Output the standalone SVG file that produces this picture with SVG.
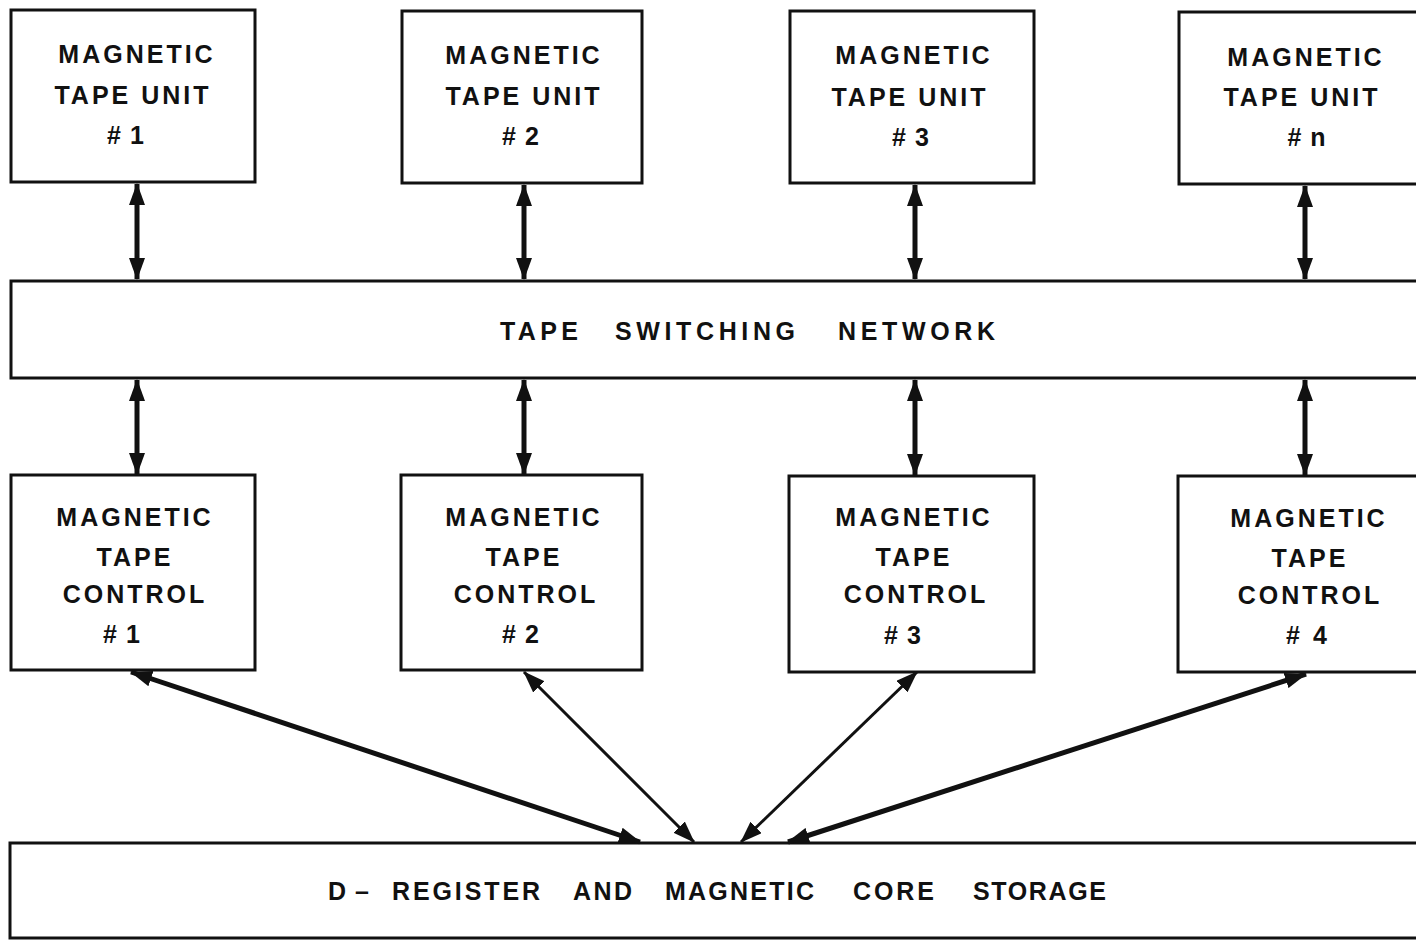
<svg xmlns="http://www.w3.org/2000/svg" width="1416" height="940" viewBox="0 0 1416 940">
  <style>
    .box { fill: #ffffff; stroke: #111111; stroke-width: 3; }
    .lbl { font-family: "Liberation Sans", Arial, sans-serif; font-weight: bold; font-size: 25px; fill: #111111; text-anchor: middle; letter-spacing: 3px; }
    .wd { font-family: "Liberation Sans", Arial, sans-serif; font-weight: bold; font-size: 25px; fill: #111111; text-anchor: start; }
    .link { stroke: #111111; fill: none; }
    .thick { stroke-width: 5; }
    .thin { stroke-width: 3; }
  </style>
  <defs>
    <marker id="head" viewBox="0 0 22 16" refX="21" refY="8" markerWidth="22" markerHeight="16" markerUnits="userSpaceOnUse" orient="auto-start-reverse">
      <path d="M0,0 L22,8 L0,16 Z" fill="#111111"/>
    </marker>
  </defs>
  <rect width="1416" height="940" fill="#ffffff"/>

  <!-- tape units -->
  <g id="tape-unit-1">
    <rect class="box" x="11" y="10" width="244" height="172"/>
    <text class="lbl" x="137" y="63">MAGNETIC</text>
    <text class="lbl" x="133" y="104">TAPE UNIT</text>
    <text class="lbl" x="127" y="144">#<tspan dx="6">1</tspan></text>
  </g>
  <g id="tape-unit-2">
    <rect class="box" x="402" y="11" width="240" height="172"/>
    <text class="lbl" x="524" y="64">MAGNETIC</text>
    <text class="lbl" x="524" y="105">TAPE UNIT</text>
    <text class="lbl" x="522" y="145">#<tspan dx="6">2</tspan></text>
  </g>
  <g id="tape-unit-3">
    <rect class="box" x="790" y="11" width="244" height="172"/>
    <text class="lbl" x="914" y="64">MAGNETIC</text>
    <text class="lbl" x="910" y="106">TAPE UNIT</text>
    <text class="lbl" x="912" y="146">#<tspan dx="6">3</tspan></text>
  </g>
  <g id="tape-unit-n">
    <rect class="box" x="1179" y="12" width="250" height="172"/>
    <text class="lbl" x="1306" y="66">MAGNETIC</text>
    <text class="lbl" x="1302" y="106">TAPE UNIT</text>
    <text class="lbl" x="1308" y="146">#<tspan dx="6">n</tspan></text>
  </g>

  <!-- switching network -->
  <g id="tape-switching-network">
    <rect class="box" x="11" y="281" width="1420" height="97"/>
    <text class="wd" x="500" y="340" textLength="78" lengthAdjust="spacing">TAPE</text>
    <text class="wd" x="615" y="340" textLength="180" lengthAdjust="spacing">SWITCHING</text>
    <text class="wd" x="838" y="340" textLength="157" lengthAdjust="spacing">NETWORK</text>
  </g>

  <!-- tape controls -->
  <g id="tape-control-1">
    <rect class="box" x="11" y="475" width="244" height="195"/>
    <text class="lbl" x="135" y="526">MAGNETIC</text>
    <text class="lbl" x="135" y="566">TAPE</text>
    <text class="lbl" x="135" y="603">CONTROL</text>
    <text class="lbl" x="123" y="643">#<tspan dx="6">1</tspan></text>
  </g>
  <g id="tape-control-2">
    <rect class="box" x="401" y="475" width="241" height="195"/>
    <text class="lbl" x="524" y="526">MAGNETIC</text>
    <text class="lbl" x="524" y="566">TAPE</text>
    <text class="lbl" x="526" y="603">CONTROL</text>
    <text class="lbl" x="522" y="643">#<tspan dx="6">2</tspan></text>
  </g>
  <g id="tape-control-3">
    <rect class="box" x="789" y="476" width="245" height="196"/>
    <text class="lbl" x="914" y="526">MAGNETIC</text>
    <text class="lbl" x="914" y="566">TAPE</text>
    <text class="lbl" x="916" y="603">CONTROL</text>
    <text class="lbl" x="904" y="644">#<tspan dx="6">3</tspan></text>
  </g>
  <g id="tape-control-4">
    <rect class="box" x="1178" y="476" width="250" height="196"/>
    <text class="lbl" x="1309" y="527">MAGNETIC</text>
    <text class="lbl" x="1310" y="567">TAPE</text>
    <text class="lbl" x="1310" y="604">CONTROL</text>
    <text class="lbl" x="1308" y="644">#<tspan dx="10">4</tspan></text>
  </g>

  <!-- core storage -->
  <g id="d-register-core-storage">
    <rect class="box" x="10" y="843" width="1420" height="95"/>
    <text class="wd" x="328" y="900">D</text>
    <text class="wd" x="355" y="900">–</text>
    <text class="wd" x="392" y="900" textLength="148" lengthAdjust="spacing">REGISTER</text>
    <text class="wd" x="573" y="900" textLength="59" lengthAdjust="spacing">AND</text>
    <text class="wd" x="665" y="900" textLength="149" lengthAdjust="spacing">MAGNETIC</text>
    <text class="wd" x="853" y="900" textLength="81" lengthAdjust="spacing">CORE</text>
    <text class="wd" x="973" y="900" textLength="133" lengthAdjust="spacing">STORAGE</text>
  </g>

  <!-- connectors -->
  <g id="connectors">
    <line class="link thick" x1="137" y1="184" x2="137" y2="279" marker-start="url(#head)" marker-end="url(#head)"/>
    <line class="link thick" x1="524" y1="185" x2="524" y2="279" marker-start="url(#head)" marker-end="url(#head)"/>
    <line class="link thick" x1="915" y1="185" x2="915" y2="279" marker-start="url(#head)" marker-end="url(#head)"/>
    <line class="link thick" x1="1305" y1="186" x2="1305" y2="279" marker-start="url(#head)" marker-end="url(#head)"/>

    <line class="link thick" x1="137" y1="380" x2="137" y2="474" marker-start="url(#head)" marker-end="url(#head)"/>
    <line class="link thick" x1="524" y1="380" x2="524" y2="474" marker-start="url(#head)" marker-end="url(#head)"/>
    <line class="link thick" x1="915" y1="380" x2="915" y2="475" marker-start="url(#head)" marker-end="url(#head)"/>
    <line class="link thick" x1="1305" y1="380" x2="1305" y2="475" marker-start="url(#head)" marker-end="url(#head)"/>

    <line class="link thick" x1="131" y1="672" x2="640" y2="842" marker-start="url(#head)" marker-end="url(#head)"/>
    <line class="link thick" x1="1306" y1="674" x2="788" y2="842" marker-start="url(#head)" marker-end="url(#head)"/>
    <line class="link thin" x1="524" y1="672" x2="694" y2="842" marker-start="url(#head)" marker-end="url(#head)"/>
    <line class="link thin" x1="917" y1="672" x2="741" y2="842" marker-start="url(#head)" marker-end="url(#head)"/>
  </g>
</svg>
